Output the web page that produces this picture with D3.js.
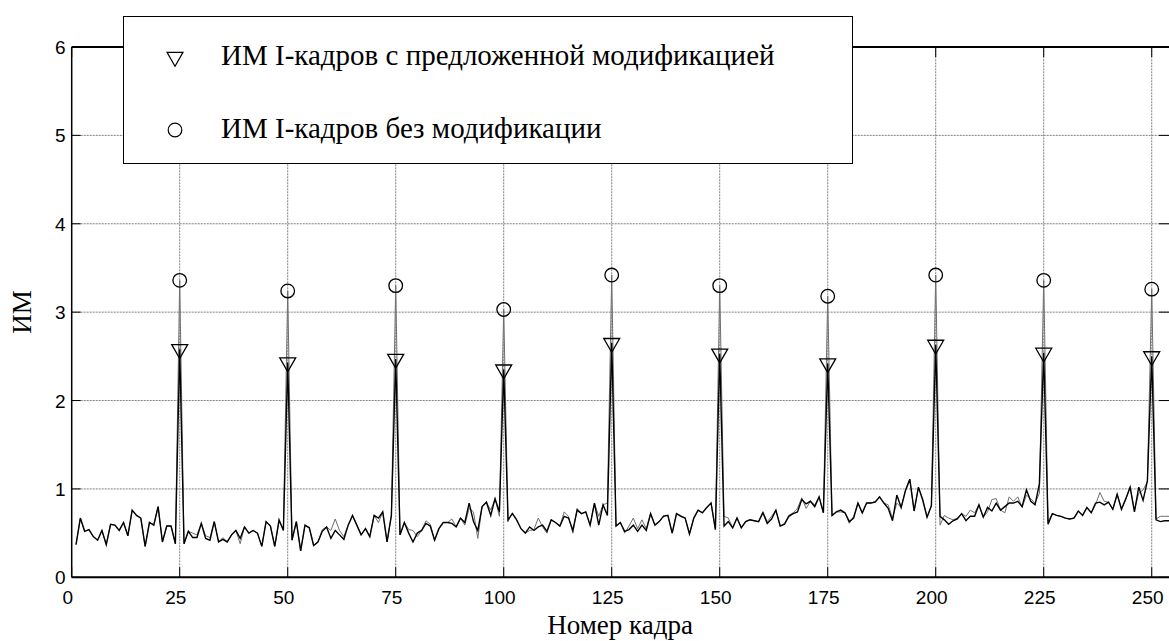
<!DOCTYPE html>
<html><head><meta charset="utf-8">
<script src="https://cdn.jsdelivr.net/npm/d3@7"></script>
<style>body{margin:0;background:#fff}</style>
</head><body>
<svg id="c" width="1169" height="641"></svg>
<script>
// Frame numbers 1..254
const frameCount = 254;
// ИМ I-кадров с предложенной модификацией (black line)
const modified = [
0.37,0.67,0.52,0.54,0.46,0.42,0.53,0.37,0.60,0.59,0.53,0.62,0.47,0.76,0.70,0.67,0.35,0.62,0.59,0.80,0.40,0.58,0.58,0.38,
2.58,
0.38,0.52,0.45,0.45,0.61,0.44,0.42,0.63,0.40,0.43,0.40,0.48,0.53,0.44,0.57,0.50,0.53,0.50,0.35,0.63,0.58,0.35,0.65,0.53,
2.43,
0.42,0.63,0.30,0.59,0.56,0.36,0.40,0.52,0.57,0.44,0.53,0.48,0.43,0.59,0.70,0.59,0.48,0.55,0.46,0.70,0.67,0.74,0.40,0.70,
2.47,
0.48,0.62,0.50,0.40,0.50,0.53,0.61,0.58,0.42,0.55,0.62,0.62,0.61,0.57,0.67,0.62,0.84,0.63,0.53,0.80,0.85,0.70,0.89,0.74,
2.35,
0.65,0.72,0.65,0.55,0.50,0.57,0.53,0.57,0.59,0.52,0.65,0.62,0.58,0.69,0.67,0.53,0.76,0.72,0.74,0.59,0.84,0.59,0.82,0.70,
2.65,
0.58,0.62,0.52,0.54,0.59,0.52,0.59,0.53,0.72,0.59,0.63,0.69,0.70,0.50,0.72,0.69,0.67,0.49,0.67,0.76,0.73,0.79,0.84,0.54,
2.53,
0.58,0.63,0.56,0.67,0.56,0.63,0.65,0.64,0.63,0.73,0.61,0.66,0.76,0.58,0.60,0.69,0.72,0.74,0.88,0.83,0.86,0.80,0.91,0.73,
2.42,
0.70,0.74,0.76,0.73,0.63,0.67,0.84,0.73,0.84,0.84,0.85,0.91,0.84,0.78,0.64,0.93,0.79,0.98,1.11,0.75,1.02,0.87,0.68,0.81,
2.63,
0.69,0.65,0.60,0.64,0.66,0.72,0.64,0.69,0.69,0.82,0.68,0.79,0.75,0.84,0.76,0.80,0.84,0.84,0.86,0.80,0.99,0.86,0.82,1.06,
2.54,
0.60,0.72,0.70,0.69,0.67,0.66,0.67,0.75,0.70,0.79,0.73,0.84,0.85,0.82,0.85,0.77,0.94,0.77,0.89,1.02,0.74,1.02,0.87,1.09,
2.50,
0.65,0.63,0.64,0.64
];
// ИМ I-кадров без модификации (grey line)
const original = [
0.37,0.67,0.52,0.54,0.46,0.42,0.53,0.37,0.60,0.59,0.53,0.62,0.47,0.76,0.70,0.67,0.35,0.62,0.59,0.80,0.40,0.58,0.58,0.38,
3.36,
0.38,0.52,0.50,0.48,0.61,0.47,0.45,0.63,0.40,0.45,0.40,0.48,0.53,0.38,0.57,0.50,0.53,0.50,0.35,0.63,0.58,0.35,0.63,0.55,
3.24,
0.42,0.63,0.30,0.59,0.56,0.36,0.40,0.54,0.57,0.53,0.66,0.53,0.46,0.59,0.70,0.59,0.48,0.55,0.46,0.70,0.62,0.74,0.40,0.70,
3.30,
0.48,0.62,0.54,0.53,0.46,0.53,0.64,0.60,0.42,0.55,0.62,0.62,0.66,0.57,0.67,0.59,0.78,0.74,0.44,0.80,0.85,0.76,0.89,0.69,
3.03,
0.63,0.73,0.65,0.55,0.50,0.53,0.54,0.67,0.57,0.50,0.65,0.62,0.58,0.74,0.69,0.50,0.78,0.72,0.74,0.59,0.84,0.69,0.82,0.84,
3.42,
0.58,0.62,0.50,0.58,0.67,0.55,0.65,0.55,0.72,0.59,0.63,0.70,0.70,0.50,0.72,0.70,0.67,0.49,0.67,0.76,0.73,0.79,0.84,0.54,
3.30,
0.69,0.67,0.56,0.67,0.56,0.63,0.65,0.64,0.63,0.74,0.63,0.69,0.76,0.58,0.61,0.70,0.73,0.78,0.90,0.78,0.86,0.82,0.91,0.73,
3.18,
0.70,0.74,0.74,0.73,0.61,0.69,0.84,0.72,0.84,0.84,0.86,0.91,0.84,0.82,0.67,0.84,0.79,0.99,1.11,0.75,1.02,0.89,0.68,0.81,
3.42,
0.59,0.70,0.67,0.65,0.67,0.72,0.69,0.76,0.73,0.82,0.68,0.74,0.88,0.89,0.76,0.73,0.91,0.86,0.91,0.79,0.93,0.89,0.84,0.95,
3.36,
0.63,0.72,0.70,0.69,0.67,0.66,0.67,0.75,0.70,0.79,0.73,0.82,0.96,0.86,0.85,0.77,0.94,0.77,0.88,1.02,0.76,0.95,0.99,1.08,
3.26,
0.66,0.69,0.69,0.69
];
const iFrames = [25,50,75,100,125,150,175,200,225,250];
const xTicks = [0,25,50,75,100,125,150,175,200,225,250];
const yTicks = [0,1,2,3,4,5,6];
const legendLabels = ["ИМ I-кадров с предложенной модификацией","ИМ I-кадров без модификации"];
const xLabel = "Номер кадра";
const yLabel = "ИМ";

const svg = d3.select("#c");
const L = 71.7, R = 1169, T = 47, B = 577.3;
const x = d3.scaleLinear().domain([0,254]).range([L,R]);
const y = d3.scaleLinear().domain([0,6]).range([B,T]);

// grid
const g = svg.append("g");
g.selectAll(".vg").data(xTicks.filter(d=>d>0)).join("line")
 .attr("x1",d=>x(d)).attr("x2",d=>x(d)).attr("y1",B).attr("y2",T)
 .attr("stroke","#808080").attr("stroke-width",1).attr("stroke-dasharray","2,1");
g.selectAll(".hg").data(yTicks.filter(d=>d>0&&d<6)).join("line")
 .attr("x1",L).attr("x2",R).attr("y1",d=>y(d)).attr("y2",d=>y(d))
 .attr("stroke","#808080").attr("stroke-width",1).attr("stroke-dasharray","2,1");

// lines
const line = d3.line().x((d,i)=>x(i+1)).y(d=>y(d));
svg.append("path").datum(original).attr("d",line).attr("fill","none")
 .attr("stroke","#6e6e6e").attr("stroke-width",1);
svg.append("path").datum(modified).attr("d",line).attr("fill","none")
 .attr("stroke","#000").attr("stroke-width",1.4).attr("stroke-linejoin","miter");

// markers
const tri = d3.symbol().type(d3.symbolTriangle).size(110);
svg.selectAll(".tri").data(iFrames).join("path")
 .attr("d",tri).attr("transform",f=>`translate(${x(f)},${y(modified[f-1])}) rotate(180)`)
 .attr("fill","none").attr("stroke","#000").attr("stroke-width",1.3);
svg.selectAll(".circ").data(iFrames).join("circle")
 .attr("cx",f=>x(f)).attr("cy",f=>y(original[f-1])).attr("r",6.8)
 .attr("fill","none").attr("stroke","#000").attr("stroke-width",1.3);

// axes box
const ax = svg.append("g");
ax.append("line").attr("x1",L).attr("x2",R).attr("y1",B).attr("y2",B).attr("stroke","#000").attr("stroke-width",2);
ax.append("line").attr("x1",L).attr("x2",R).attr("y1",T).attr("y2",T).attr("stroke","#000").attr("stroke-width",2);
ax.append("line").attr("x1",L).attr("x2",L).attr("y1",T).attr("y2",B).attr("stroke","#000").attr("stroke-width",1.5);
// inner ticks
ax.selectAll(".xtb").data(xTicks).join("line").attr("x1",d=>x(d)).attr("x2",d=>x(d)).attr("y1",B).attr("y2",B-10).attr("stroke","#000").attr("stroke-width",1);
ax.selectAll(".xtt").data(xTicks).join("line").attr("x1",d=>x(d)).attr("x2",d=>x(d)).attr("y1",T).attr("y2",T+10).attr("stroke","#000").attr("stroke-width",1);
ax.selectAll(".ytl").data(yTicks).join("line").attr("x1",L).attr("x2",L+9).attr("y1",d=>y(d)).attr("y2",d=>y(d)).attr("stroke","#000").attr("stroke-width",1);
ax.selectAll(".ytr").data(yTicks).join("line").attr("x1",R-10).attr("x2",R).attr("y1",d=>y(d)).attr("y2",d=>y(d)).attr("stroke","#000").attr("stroke-width",1);

// tick labels
const sans = "Liberation Sans, Arial, sans-serif";
ax.selectAll(".xl").data(xTicks).join("text").attr("x",d=>x(d)-4).attr("y",B+27)
 .attr("text-anchor","middle").attr("font-family",sans).attr("font-size",19).text(d=>d);
ax.selectAll(".yl").data(yTicks).join("text").attr("x",L-6).attr("y",d=>y(d)+7)
 .attr("text-anchor","end").attr("font-family",sans).attr("font-size",19).text(d=>d);

const serif = "Liberation Serif, Times New Roman, serif";
svg.append("text").attr("x",620).attr("y",634).attr("text-anchor","middle")
 .attr("font-family",serif).attr("font-size",27).text(xLabel);
svg.append("text").attr("transform","translate(31,312) rotate(-90)").attr("text-anchor","middle")
 .attr("font-family",serif).attr("font-size",27).text(yLabel);

// legend
const lg = svg.append("g");
lg.append("rect").attr("x",123.5).attr("y",16.5).attr("width",729).attr("height",147)
 .attr("fill","#fff").attr("stroke","#000").attr("stroke-width",1);
lg.append("path").attr("d",tri).attr("transform","translate(175,57) rotate(180)")
 .attr("fill","none").attr("stroke","#000").attr("stroke-width",1.2);
lg.append("circle").attr("cx",175).attr("cy",130).attr("r",6.8)
 .attr("fill","none").attr("stroke","#000").attr("stroke-width",1.2);
lg.selectAll(".lt").data(legendLabels).join("text").attr("x",221).attr("y",(d,i)=>i?138:65)
 .attr("font-family",serif).attr("font-size",29).text(d=>d);
</script>
</body></html>
